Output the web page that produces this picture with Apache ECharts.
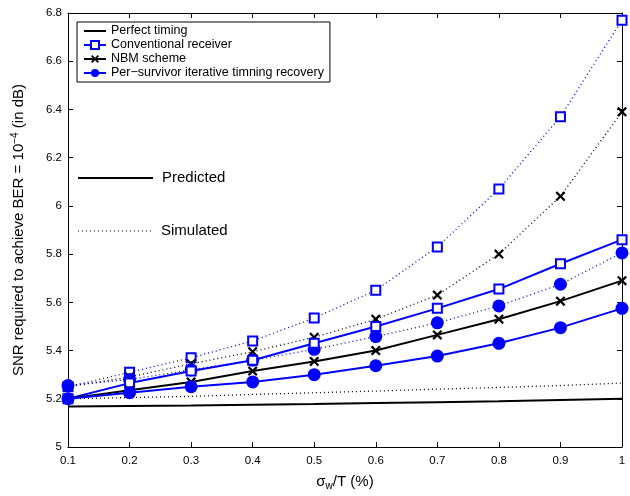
<!DOCTYPE html>
<html><head><meta charset="utf-8">
<script src="https://cdn.jsdelivr.net/npm/echarts@6/dist/echarts.min.js"></script>
<style>html,body{margin:0;padding:0;background:#fff}#c{width:630px;height:496px}</style>
</head><body><div id="c"></div>
<script>
const xValues = [0.1, 0.2, 0.3, 0.4, 0.5, 0.6, 0.7, 0.8, 0.9, 1.0];
const perfectPred = [5.168, 5.170, 5.172, 5.175, 5.178, 5.182, 5.186, 5.190, 5.195, 5.200];
const perfectSim  = [5.200, 5.205, 5.210, 5.218, 5.225, 5.232, 5.240, 5.247, 5.255, 5.265];
const convPred = [5.200, 5.265, 5.315, 5.360, 5.430, 5.500, 5.575, 5.655, 5.760, 5.860];
const convSim  = [5.250, 5.310, 5.370, 5.440, 5.535, 5.650, 5.830, 6.070, 6.370, 6.770];
const nbmPred = [5.200, 5.235, 5.270, 5.315, 5.355, 5.400, 5.465, 5.530, 5.605, 5.690];
const nbmSim  = [5.250, 5.290, 5.345, 5.395, 5.455, 5.530, 5.630, 5.800, 6.040, 6.390];
const psPred = [5.200, 5.225, 5.250, 5.270, 5.300, 5.337, 5.377, 5.430, 5.495, 5.575];
const psSim  = [5.255, 5.280, 5.320, 5.360, 5.405, 5.458, 5.515, 5.585, 5.675, 5.805];
const yTicks = {min: 5, max: 6.8, step: 0.2};
const xTicks = {min: 0.1, max: 1, step: 0.1};
const legendNames = ['Perfect timing', 'Conventional receiver', 'NBM scheme', 'Per\u2212survivor iterative timning recovery'];

const BLUE = '#0000ff', BLACK = '#000000';
const X_PATH = 'path://M0,1.6 L1.6,0 L5,3.4 L8.4,0 L10,1.6 L6.6,5 L10,8.4 L8.4,10 L5,6.6 L1.6,10 L0,8.4 L3.4,5 Z';
const LINE_ICON = 'path://M0,0 L0.01,0 L0.01,0.01 Z M0,4 L24,4 L24,6 L0,6 Z M0,10 L0.01,10 L0.01,9.99 Z';
const pairs = a => xValues.map((x, i) => [x, a[i]]);
const FONT = 'Liberation Sans, Arial, Helvetica, sans-serif';

function series(name, data, color, solid, symbol) {
  const s = {
    name, type: 'line', data: pairs(data), z: solid ? 3 : 2,
    lineStyle: {color, width: solid ? 2 : 1.3, type: solid ? 'solid' : [1, 3]},
    itemStyle: {color}, animation: false, silent: true
  };
  if (symbol === 'square') {
    s.symbol = 'rect'; s.symbolSize = 9;
    s.itemStyle = {color: '#fff', borderColor: color, borderWidth: 2};
  } else if (symbol === 'x') {
    s.symbol = X_PATH; s.symbolSize = 10;
    s.itemStyle = {color: BLACK, borderWidth: 0};
  } else if (symbol === 'circle') {
    s.symbol = 'circle'; s.symbolSize = 13;
    s.itemStyle = {color: color, borderWidth: 0};
  } else {
    s.symbol = 'none'; s.showSymbol = false;
  }
  return s;
}

const chart = echarts.init(document.getElementById('c'), null, {renderer: 'canvas'});
const axisCommon = {
  axisLine: {show: true, onZero: false, lineStyle: {color: BLACK, width: 1}},
  axisTick: {show: true, inside: true, length: 5, lineStyle: {color: BLACK}},
  splitLine: {show: false}
};
chart.setOption({
  backgroundColor: '#fff',
  animation: false,
  textStyle: {fontFamily: FONT},
  grid: {left: 68, right: 8, top: 13, bottom: 44, show: false},
  legend: {
    data: [{name: legendNames[0], icon: LINE_ICON}, legendNames[1], legendNames[2], legendNames[3]],
    orient: 'vertical', left: 77, top: 22,
    itemWidth: 22, itemHeight: 10, itemGap: 0,
    padding: [2, 6, 2, 6],
    borderColor: BLACK, borderWidth: 1, backgroundColor: '#fff',
    textStyle: {fontSize: 12.5, color: BLACK, fontFamily: FONT, lineHeight: 14},
    selectedMode: false
  },
  xAxis: [
    Object.assign({type: 'value', min: xTicks.min, max: xTicks.max, interval: xTicks.step, position: 'bottom',
      axisLabel: {color: BLACK, fontSize: 11.5, margin: 8, fontFamily: FONT,
        formatter: v => String(Math.round(v * 10) / 10)},
      name: '{a|\u03c3}{b|w}{a|/T (%)}', nameLocation: 'middle', nameGap: 26,
      nameTextStyle: {rich: {a: {fontSize: 15, color: BLACK, fontFamily: FONT}, b: {fontSize: 10, color: BLACK, fontFamily: FONT, verticalAlign: 'bottom', padding: [8, 0, 0, 0]}}}
    }, axisCommon),
    Object.assign({type: 'value', min: xTicks.min, max: xTicks.max, interval: xTicks.step, position: 'top',
      axisLabel: {show: false}}, axisCommon)
  ],
  yAxis: [
    Object.assign({type: 'value', min: yTicks.min, max: yTicks.max, interval: yTicks.step, position: 'left',
      axisLabel: {color: BLACK, fontSize: 11.5, margin: 6, fontFamily: FONT,
        formatter: v => String(Math.round(v * 10) / 10)},
      name: '{a|SNR required to achieve BER = 10}{s|\u22124}{a| (in dB)}', nameLocation: 'middle', nameGap: 40,
      nameTextStyle: {rich: {a: {fontSize: 15, color: BLACK, fontFamily: FONT}, s: {fontSize: 10, color: BLACK, fontFamily: FONT, verticalAlign: 'top', padding: [0, 0, 8, 0]}}}
    }, axisCommon),
    Object.assign({type: 'value', min: yTicks.min, max: yTicks.max, interval: yTicks.step, position: 'right',
      axisLabel: {show: false}}, axisCommon)
  ],
  graphic: [
    {type: 'line', shape: {x1: 78, y1: 178, x2: 153, y2: 178}, style: {stroke: BLACK, lineWidth: 2}},
    {type: 'text', left: 162, top: 170, style: {text: 'Predicted', fontSize: 15, fill: BLACK, fontFamily: FONT}},
    {type: 'line', shape: {x1: 78, y1: 231, x2: 153, y2: 231}, style: {stroke: '#555', lineWidth: 1.3, lineDash: [1, 3]}},
    {type: 'text', left: 161, top: 223, style: {text: 'Simulated', fontSize: 15, fill: BLACK, fontFamily: FONT}}
  ],
  series: [
    series(legendNames[0], perfectPred, BLACK, true, null),
    series('perfect-sim', perfectSim, BLACK, false, null),
    series('conv-sim', convSim, BLUE, false, 'square'),
    series('nbm-sim', nbmSim, BLACK, false, 'x'),
    series('ps-sim', psSim, BLUE, false, 'circle'),
    series(legendNames[1], convPred, BLUE, true, 'square'),
    series(legendNames[2], nbmPred, BLACK, true, 'x'),
    series(legendNames[3], psPred, BLUE, true, 'circle')
  ]
});
</script></body></html>
